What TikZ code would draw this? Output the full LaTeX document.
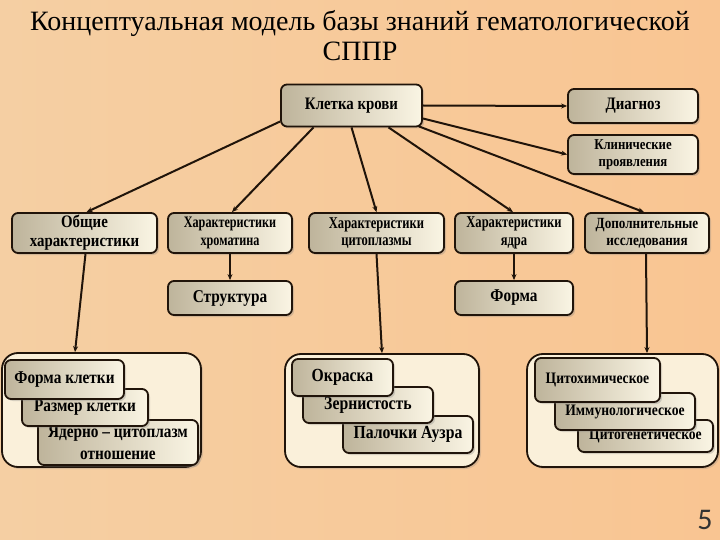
\documentclass[tikz,border=0pt]{standalone}
\usepackage{fontspec}
\setmainfont{Liberation Serif}
\newfontfamily\cA[FakeStretch=0.85]{Liberation Serif}
\newfontfamily\cB[FakeStretch=0.76]{Liberation Serif}
\newfontfamily\numfont{Carlito}
\usetikzlibrary{arrows.meta,shadows}
\definecolor{bgA}{RGB}{245,207,163}
\definecolor{bgB}{RGB}{249,197,146}
\definecolor{ink}{RGB}{32,20,10}
\definecolor{boxL}{RGB}{190,180,155}
\definecolor{boxR}{RGB}{250,245,228}
\definecolor{grpF}{RGB}{250,240,218}
\begin{document}
\begin{tikzpicture}[x=1pt,y=-1pt,
  box/.style={draw=ink, line width=1.8pt, rounded corners=6pt, left color=boxL, right color=boxR,
    align=center, inner sep=1pt, text=black,
    drop shadow={shadow xshift=2pt, shadow yshift=-2pt, opacity=0.3}},
  grp/.style={draw=ink, line width=1.8pt, rounded corners=16pt, fill=grpF,
    drop shadow={shadow xshift=2pt, shadow yshift=-2pt, opacity=0.25}},
  arr/.style={draw=ink, line width=2pt, -{Stealth[length=6pt,width=5pt]}},
  fkk/.style={font=\cA\fontsize{17.5}{20}\selectfont\bfseries},
  fklin/.style={font=\cA\fontsize{15}{16.5}\selectfont\bfseries},
  fobsh/.style={font=\cA\fontsize{17.5}{19}\selectfont\bfseries},
  fxrom/.style={font=\cB\fontsize{16}{17.5}\selectfont\bfseries},
  fcyto/.style={font=\cB\fontsize{16.5}{17.5}\selectfont\bfseries},
  fdop/.style={font=\cA\fontsize{15.5}{17}\selectfont\bfseries},
  fstr/.style={font=\cA\fontsize{18}{20}\selectfont\bfseries},
  fgone/.style={font=\cA\fontsize{18}{22}\selectfont\bfseries},
  fgtwo/.style={font=\cA\fontsize{18.5}{20}\selectfont\bfseries},
  fgthree/.style={font=\cA\fontsize{16}{18}\selectfont\bfseries}
]
\shade[left color=bgA, right color=bgB] (0,0) rectangle (720,540);
\useasboundingbox (0,0) rectangle (720,540);

% title
\node[font=\fontsize{28}{30}\selectfont, align=center] (title) at (360,36)
  {Концептуальная модель базы знаний гематологической\\СППР};

% top
\node[box, fkk, minimum width=141pt, minimum height=42pt] (kk) at (351.5,105.5) {Клетка крови};
\node[box, fkk, minimum width=130pt, minimum height=34pt] (diag) at (633,106) {Диагноз};
\node[box, fklin, minimum width=130pt, minimum height=39pt] (klin) at (633,154.5) {Клинические\\проявления};

% row
\node[box, fobsh, minimum width=145pt, minimum height=40pt] (obsh) at (84.5,233) {Общие\\характеристики};
\node[box, fxrom, minimum width=124pt, minimum height=40pt] (xrom) at (230,233) {Характеристики\\хроматина};
\node[box, fcyto, minimum width=135pt, minimum height=40pt] (cyto) at (376.5,233) {Характеристики\\цитоплазмы};
\node[box, fcyto, minimum width=118pt, minimum height=40pt] (yadra) at (514,233) {Характеристики\\ядра};
\node[box, fdop, minimum width=124pt, minimum height=40pt] (dop) at (647,233) {Дополнительные\\исследования};

\node[box, fstr, minimum width=124pt, minimum height=34pt] (strukt) at (230,298) {Структура};
\node[box, fstr, minimum width=118pt, minimum height=34pt] (forma) at (514,298) {Форма};

% groups
\node[grp, minimum width=199pt, minimum height=114pt] (g1) at (101.5,410) {};
\node[grp, minimum width=194pt, minimum height=113pt] (g2) at (382,410.5) {};
\node[grp, minimum width=191pt, minimum height=113pt] (g3) at (622.5,410.5) {};

\node[box, fgone, minimum width=160pt, minimum height=45pt] (yad) at (118,442.5) {Ядерно – цитоплазм\\отношение};
\node[box, fgone, minimum width=126pt, minimum height=37pt] (razm) at (85,407.5) {Размер клетки};
\node[box, fgone, minimum width=119pt, minimum height=39pt] (fkl) at (64.5,379.5) {Форма клетки};

\node[box, fgtwo, minimum width=130pt, minimum height=37pt] (pal) at (408,434.5) {Палочки Аузра};
\node[box, fgtwo, minimum width=130pt, minimum height=36pt] (zern) at (368,405) {Зернистость};
\node[box, fgtwo, minimum width=101pt, minimum height=37pt] (okr) at (342.5,377.5) {Окраска};

\node[box, fgthree, minimum width=135pt, minimum height=32pt] (cgen) at (645.5,436) {Цитогенетическое};
\node[box, fgthree, minimum width=140pt, minimum height=37pt] (imm) at (625,411.5) {Иммунологическое};
\node[box, fgthree, minimum width=125pt, minimum height=44pt] (cxim) at (597.5,380) {Цитохимическое};

% connectors
\draw[arr] (kk.east) -- (diag.west);
\draw[arr] ([yshift=-13pt]kk.east) -- (klin.west);
\draw[arr] ([xshift=-4pt,yshift=1pt]kk.south east) -- ([xshift=-3pt]dop.north);
\draw[arr] ([xshift=37pt]kk.south) -- ([xshift=-1pt]yadra.north);
\draw[arr] (kk.south) -- (cyto.north);
\draw[arr] ([xshift=-38pt]kk.south) -- ([xshift=2pt]xrom.north);
\draw[arr] ([yshift=-16pt]kk.west) -- ([xshift=2pt]obsh.north);

\draw[arr] (xrom.south) -- (strukt.north);
\draw[arr] (yadra.south) -- (forma.north);

\draw[arr] ([xshift=1pt]obsh.south) -- ([xshift=-26.5pt]g1.north);
\draw[arr] (cyto.south) -- (g2.north);
\draw[arr] ([xshift=-1pt]dop.south) -- ([xshift=24.5pt]g3.north);

% page number
\node[font=\numfont\fontsize{30}{30}\selectfont, text={rgb,255:red,50;green,50;blue,50}] (pnum) at (705,520) {5};
\end{tikzpicture}
\end{document}
